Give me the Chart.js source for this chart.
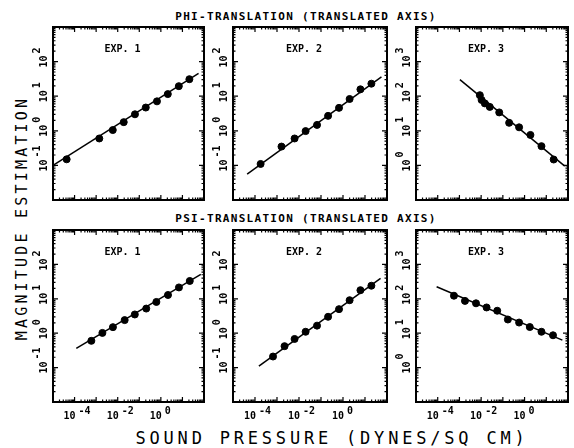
<!DOCTYPE html>
<html>
<head>
<meta charset="utf-8">
<script src="https://cdn.jsdelivr.net/npm/chart.js@4"></script>
<style>
  body { margin: 0; background: #fff; width: 574px; height: 448px; position: relative; overflow: hidden; }
  canvas { position: absolute; }
  .lbl { position: absolute; white-space: nowrap; color: #000; font-family: 'DejaVu Sans Mono', monospace; line-height: 1; transform: translate(-50%, -50%); }
</style>
</head>
<body>
<div class="lbl" style="left:306px; top:16px; font-size:11px; font-weight:bold; letter-spacing:1.3px;">PHI-TRANSLATION (TRANSLATED AXIS)</div>
<div class="lbl" style="left:306px; top:218px; font-size:11px; font-weight:bold; letter-spacing:1.3px;">PSI-TRANSLATION (TRANSLATED AXIS)</div>
<div class="lbl" style="left:332px; top:438px; font-size:17px; letter-spacing:3.8px;">SOUND PRESSURE (DYNES/SQ CM)</div>
<div class="lbl" style="left:22px; top:218px; font-size:15px; letter-spacing:3.2px; transform: translate(-50%, -50%) rotate(-90deg);">MAGNITUDE ESTIMATION</div>
<script>
// tick labels (powers of ten)
const xTickExps = [-4, -2, 0];
const yTickExpsLow = [-1, 0, 1, 2];
const yTickExpsHigh = [0, 1, 2, 3];

// PHI-translation
const phiExp1X = [4.3e-5, 1.4e-3, 5.9e-3, 0.019, 0.063, 0.2, 0.66, 2.1, 6.8, 21];
const phiExp1Y = [0.15, 0.6, 1.05, 1.78, 3.0, 4.7, 7.1, 11.5, 19.5, 31];
const phiExp1FitX = [1e-5, 56];
const phiExp1FitY = [0.1, 46];

const phiExp2X = [1.8e-4, 1.6e-3, 6.3e-3, 0.02, 0.066, 0.21, 0.66, 2.0, 6.2, 19.5];
const phiExp2Y = [0.11, 0.35, 0.6, 0.98, 1.48, 2.7, 4.6, 8.3, 15.8, 23];
const phiExp2FitX = [4.4e-5, 56];
const phiExp2FitY = [0.056, 36];

const phiExp3X = [8.7e-3, 0.0105, 0.0148, 0.025, 0.068, 0.195, 0.56, 1.86, 6.0, 21.9];
const phiExp3Y = [107, 78, 62, 49, 34, 17, 12.6, 7.6, 3.6, 1.48];
const phiExp3FitX = [1.05e-3, 71];
const phiExp3FitY = [302, 0.95];

// PSI-translation
const psiExp1X = [6.0e-4, 1.95e-3, 6.0e-3, 0.021, 0.062, 0.21, 0.62, 2.14, 6.9, 21.9];
const psiExp1Y = [0.6, 1.02, 1.5, 2.4, 3.5, 5.2, 8.1, 12.9, 21.4, 33];
const psiExp1FitX = [1.2e-4, 71];
const psiExp1FitY = [0.36, 51];

const psiExp2X = [6.6e-4, 2.2e-3, 6.3e-3, 0.02, 0.066, 0.21, 0.66, 2.0, 6.2, 19.5];
const psiExp2Y = [0.21, 0.42, 0.68, 1.1, 1.66, 3.0, 5.0, 9.1, 17.8, 24];
const psiExp2FitX = [1.5e-4, 51];
const psiExp2FitY = [0.11, 39];

const psiExp3X = [5.6e-4, 1.8e-3, 5.8e-3, 0.0178, 0.055, 0.17, 0.56, 1.74, 6.0, 20.4];
const psiExp3Y = [123, 87, 74, 56, 45, 25, 20.4, 15.1, 11, 8.7];
const psiExp3FitX = [8.9e-5, 55];
const psiExp3FitY = [224, 6.3];

const FONT = "'DejaVu Sans Mono', monospace";

function drawMarks(ctx, a, scale, horizontal) {
  const lo = Math.log10(scale.min), hi = Math.log10(scale.max);
  for (let e = Math.floor(lo); e <= hi; e++) {
    for (let m = 1; m < 10; m++) {
      const v = m * Math.pow(10, e);
      if (v <= scale.min * 1.001 || v >= scale.max * 0.999) continue;
      const p = scale.getPixelForValue(v);
      const len = m === 1 ? 5 : 2.5;
      ctx.beginPath();
      if (horizontal) {
        ctx.moveTo(p, a.bottom); ctx.lineTo(p, a.bottom - len);
        ctx.moveTo(p, a.top); ctx.lineTo(p, a.top + len);
      } else {
        ctx.moveTo(a.left, p); ctx.lineTo(a.left + len, p);
        ctx.moveTo(a.right, p); ctx.lineTo(a.right - len, p);
      }
      ctx.stroke();
    }
  }
}

const panelDeco = {
  id: 'panelDeco',
  afterDraw(chart, args, opts) {
    const { ctx, chartArea: a, scales: { x, y } } = chart;
    ctx.save();
    ctx.strokeStyle = '#000';
    ctx.fillStyle = '#000';
    ctx.lineWidth = 1.2;
    drawMarks(ctx, a, x, true);
    drawMarks(ctx, a, y, false);
    ctx.lineWidth = 2;
    ctx.strokeRect(a.left, a.top, a.right - a.left, a.bottom - a.top);

    // panel label
    ctx.font = 'bold 10px ' + FONT;
    ctx.textAlign = 'center';
    ctx.textBaseline = 'middle';
    ctx.fillText(opts.label, (a.left + a.right) / 2 - 6, a.top + 22);

    // y tick labels, rotated
    opts.yTicks.forEach(e => {
      const py = y.getPixelForValue(Math.pow(10, e));
      ctx.save();
      ctx.translate(a.left - 9, py);
      ctx.rotate(-Math.PI / 2);
      ctx.font = 'bold 10px ' + FONT;
      ctx.textAlign = 'center';
      ctx.fillText('10', 0, 0);
      ctx.textAlign = 'left';
      ctx.fillText(String(e), 8, -7);
      ctx.restore();
    });

    // x tick labels
    opts.xTicks.forEach(e => {
      const px = x.getPixelForValue(Math.pow(10, e));
      ctx.font = 'bold 10px ' + FONT;
      ctx.textAlign = 'right';
      ctx.fillText('10', px + 1, a.bottom + 14);
      ctx.textAlign = 'left';
      ctx.fillText(String(e), px + 4, a.bottom + 9);
    });
    ctx.restore();
  }
};

function toPoints(xs, ys) {
  return xs.map((v, i) => ({ x: v, y: ys[i] }));
}

const panels = [
  { left: 53, top: 27, w: 151, h: 173, yMin: 1e-2, yMax: 1e3, yTicks: yTickExpsLow, xTicks: [], label: 'EXP. 1', xs: phiExp1X, ys: phiExp1Y, fx: phiExp1FitX, fy: phiExp1FitY },
  { left: 233, top: 27, w: 154, h: 173, yMin: 1e-2, yMax: 1e3, yTicks: yTickExpsLow, xTicks: [], label: 'EXP. 2', xs: phiExp2X, ys: phiExp2Y, fx: phiExp2FitX, fy: phiExp2FitY },
  { left: 416, top: 27, w: 152, h: 173, yMin: 1e-1, yMax: 1e4, yTicks: yTickExpsHigh, xTicks: [], label: 'EXP. 3', xs: phiExp3X, ys: phiExp3Y, fx: phiExp3FitX, fy: phiExp3FitY },
  { left: 53, top: 230, w: 151, h: 172, yMin: 1e-2, yMax: 1e3, yTicks: yTickExpsLow, xTicks: xTickExps, label: 'EXP. 1', xs: psiExp1X, ys: psiExp1Y, fx: psiExp1FitX, fy: psiExp1FitY },
  { left: 233, top: 230, w: 154, h: 172, yMin: 1e-2, yMax: 1e3, yTicks: yTickExpsLow, xTicks: xTickExps, label: 'EXP. 2', xs: psiExp2X, ys: psiExp2Y, fx: psiExp2FitX, fy: psiExp2FitY },
  { left: 416, top: 230, w: 152, h: 172, yMin: 1e-1, yMax: 1e4, yTicks: yTickExpsHigh, xTicks: xTickExps, label: 'EXP. 3', xs: psiExp3X, ys: psiExp3Y, fx: psiExp3FitX, fy: psiExp3FitY }
];

panels.forEach(p => {
  const axisW = 45, padT = 5, padR = 5;
  const axisH = p.xTicks.length ? 30 : 5;
  const canvas = document.createElement('canvas');
  canvas.width = axisW + p.w + padR;
  canvas.height = padT + p.h + axisH;
  canvas.style.left = (p.left - axisW) + 'px';
  canvas.style.top = (p.top - padT) + 'px';
  document.body.appendChild(canvas);

  new Chart(canvas.getContext('2d'), {
    type: 'scatter',
    data: {
      datasets: [{
        data: toPoints(p.xs, p.ys),
        backgroundColor: '#000',
        borderColor: '#000',
        pointRadius: 3.5,
        pointHoverRadius: 3.5
      }, {
        data: toPoints(p.fx, p.fy),
        showLine: true,
        borderColor: '#000',
        borderWidth: 1.5,
        pointRadius: 0
      }]
    },
    options: {
      responsive: false,
      animation: false,
      devicePixelRatio: 1,
      layout: { padding: { left: 0, top: padT, right: padR, bottom: 0 } },
      plugins: {
        legend: { display: false },
        tooltip: { enabled: false },
        panelDeco: { label: p.label, yTicks: p.yTicks, xTicks: p.xTicks }
      },
      scales: {
        x: {
          type: 'logarithmic',
          min: 1e-5,
          max: 1e2,
          ticks: { display: false },
          grid: { display: false },
          border: { display: false },
          afterFit(s) { s.height = axisH; }
        },
        y: {
          type: 'logarithmic',
          min: p.yMin,
          max: p.yMax,
          ticks: { display: false },
          grid: { display: false },
          border: { display: false },
          afterFit(s) { s.width = axisW; }
        }
      }
    },
    plugins: [panelDeco]
  });
});
</script>
</body>
</html>
